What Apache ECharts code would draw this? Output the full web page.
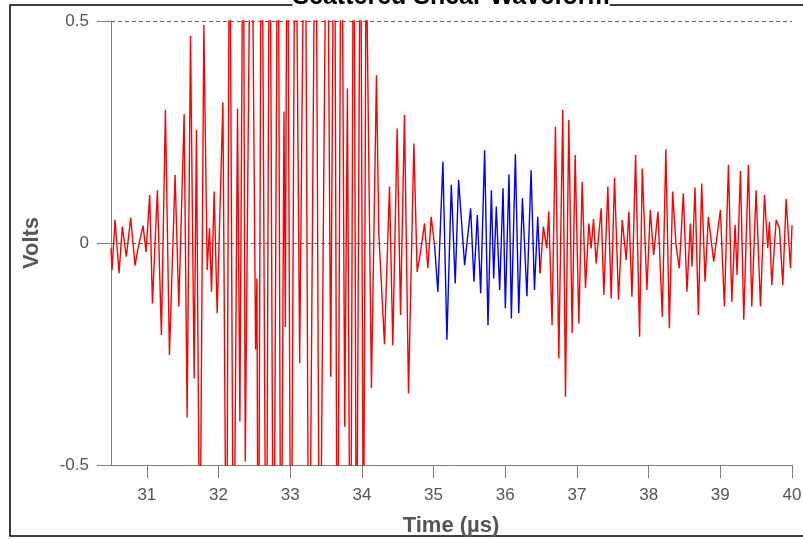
<!DOCTYPE html>
<html>
<head>
<meta charset="utf-8">
<script src="https://cdn.jsdelivr.net/npm/echarts@6/dist/echarts.min.js"></script>
<style>
html,body{margin:0;padding:0;background:#fff;}
#chart{width:803px;height:539px;}
</style>
</head>
<body>
<div id="chart"></div>
<script>
// Tick labels
const xTicks = [31, 32, 33, 34, 35, 36, 37, 38, 39, 40];
const yTicks = [-0.5, 0, 0.5];

// Early (red) part of the waveform: time (µs), volts (saturated peaks run past the ±0.5 frame)
const earlyTimes = [30.500,30.514,30.556,30.612,30.658,30.714,30.775,30.835,30.877,30.947,30.989,31.040,31.078,31.147,31.203,31.259,31.315,31.394,31.446,31.520,31.562,31.609,31.660,31.692,31.739,31.795,31.842,31.874,31.902,31.939,31.981,32.061,32.112,32.154,32.210,32.265,32.298,32.345,32.373,32.456,32.517,32.536,32.554,32.601,32.666,32.713,32.768,32.829,32.871,32.913,32.932,32.959,33.011,33.071,33.132,33.206,33.262,33.355,33.411,33.467,33.514,33.565,33.616,33.658,33.714,33.761,33.798,33.840,33.886,33.924,33.980,34.022,34.059,34.133,34.203,34.236,34.315,34.385,34.431,34.492,34.539,34.594,34.650,34.725,34.771,34.818,34.874,34.920,34.967,35.014];
const earlyVolts = [-0.012,-0.061,0.052,-0.068,0.037,-0.031,0.057,-0.051,-0.012,0.039,-0.020,0.108,-0.136,0.119,-0.207,0.300,-0.252,0.153,-0.143,0.290,-0.393,0.467,-0.305,0.255,-0.800,0.491,-0.061,0.033,-0.110,0.116,-0.158,0.317,-0.900,0.900,-0.900,0.303,-0.402,0.900,-0.492,1.000,-0.240,-0.080,-1.000,1.000,-1.000,1.000,-1.000,1.000,-1.000,0.296,-0.189,1.000,-1.000,1.000,-0.271,1.000,-1.000,1.000,-1.000,0.131,1.000,-0.301,1.000,-1.000,1.000,-0.414,0.348,-1.000,1.000,-0.900,0.900,-0.800,0.700,-0.327,0.378,0.022,-0.228,0.127,-0.230,0.258,-0.162,0.288,-0.339,0.224,-0.065,-0.020,0.044,-0.057,0.059,-0.005];

// Gated (blue) window
const windowTimes = [35.014,35.060,35.130,35.186,35.247,35.302,35.349,35.433,35.517,35.563,35.610,35.657,35.712,35.759,35.806,35.838,35.875,35.922,35.969,36.001,36.052,36.085,36.141,36.188,36.239,36.302,36.360,36.407,36.453,36.486];
const windowVolts = [-0.005,-0.110,0.183,-0.218,0.131,-0.091,0.142,-0.050,0.078,-0.087,0.063,-0.113,0.209,-0.185,0.119,-0.080,0.082,-0.106,0.123,-0.147,0.155,-0.170,0.200,-0.158,0.101,-0.120,0.164,-0.106,0.059,-0.068];

// Late (red) part
const lateTimes = [36.486,36.532,36.579,36.607,36.653,36.700,36.747,36.802,36.840,36.886,36.933,36.975,37.026,37.073,37.119,37.166,37.198,37.231,37.268,37.338,37.375,37.431,37.478,37.524,37.580,37.632,37.687,37.725,37.767,37.818,37.874,37.911,37.976,38.023,38.070,38.130,38.191,38.240,38.289,38.335,38.382,38.428,38.484,38.535,38.582,38.605,38.647,38.694,38.740,38.787,38.833,38.908,39.001,39.057,39.113,39.160,39.206,39.234,39.281,39.327,39.392,39.439,39.499,39.560,39.616,39.662,39.685,39.718,39.779,39.825,39.872,39.918,39.979,40.000];
const lateVolts = [-0.068,0.037,-0.012,0.071,-0.185,0.262,-0.260,0.300,-0.346,0.277,-0.203,0.198,-0.181,0.138,-0.102,0.044,-0.012,0.054,-0.046,0.078,-0.117,0.127,-0.125,0.147,-0.128,0.052,-0.038,0.071,-0.121,0.198,-0.211,0.168,-0.106,0.074,-0.027,0.071,-0.166,0.211,-0.192,0.116,-0.005,-0.057,0.112,-0.110,0.044,-0.053,0.125,-0.162,0.134,-0.087,0.059,-0.042,0.074,-0.143,0.176,-0.132,0.041,-0.072,0.162,-0.173,0.176,-0.143,0.119,-0.143,0.108,-0.012,0.048,-0.095,0.052,0.033,-0.095,0.099,-0.057,0.040];

function zip(t, v) {
  const n = Math.min(t.length, v.length);
  const out = [];
  for (let i = 0; i < n; i++) out.push([t[i], v[i]]);
  return out;
}

const FONT = "'Liberation Sans', Arial, sans-serif";
const chart = echarts.init(document.getElementById('chart'), null, {renderer: 'canvas'});

function lineSeries(name, data, color) {
  return {
    name: name, type: 'line', data: data, showSymbol: false, symbol: 'none',
    clip: true, animation: false,
    lineStyle: {color: color, width: 1.4},
    emphasis: {disabled: true}
  };
}

chart.setOption({
  animation: false,
  backgroundColor: '#fff',
  grid: {left: 111, right: 11, top: 21, bottom: 74, containLabel: false, outerBoundsMode: 'none'},
  xAxis: {
    type: 'value', min: 30.5, max: 40,
    axisLine: {onZero: false, lineStyle: {color: '#808080', width: 1}},
    axisTick: {show: true, length: 13, customValues: xTicks, lineStyle: {color: '#808080', width: 1}},
    axisLabel: {customValues: xTicks, color: '#555', fontSize: 17, fontFamily: FONT, margin: 22},
    splitLine: {show: false}
  },
  yAxis: {
    type: 'value', min: yTicks[0], max: yTicks[yTicks.length - 1], interval: 0.5,
    name: 'Volts', nameLocation: 'middle', nameGap: 68, nameRotate: 90,
    nameTextStyle: {color: '#555', fontSize: 22, fontWeight: 'bold', fontFamily: FONT},
    axisLine: {show: true, onZero: false, lineStyle: {color: '#808080', width: 1}},
    axisTick: {show: true, length: 14, lineStyle: {color: '#808080', width: 1}},
    axisLabel: {color: '#555', fontSize: 17, fontFamily: FONT, margin: 22},
    splitLine: {show: true, lineStyle: {color: '#666', width: 1, type: [4, 3]}}
  },
  graphic: [
    {type: 'rect', z: 0, silent: true,
     shape: {x: 10, y: 5, width: 820, height: 531},
     style: {fill: 'none', stroke: '#000', lineWidth: 1.5}},
    {type: 'text', z: 10, silent: true,
     style: {text: 'Scattered Shear Waveform', x: 451, y: 10, align: 'center', verticalAlign: 'bottom',
             fontSize: 25, fontWeight: 'bold', fontFamily: FONT, fill: '#000', backgroundColor: '#fff'}},
    {type: 'text', z: 10, silent: true,
     style: {text: 'Time (\u00b5s)', x: 451, y: 526, align: 'center', verticalAlign: 'middle',
             fontSize: 22, fontWeight: 'bold', fontFamily: FONT, fill: '#555'}}
  ],
  series: [
    lineSeries('early', zip(earlyTimes, earlyVolts), '#ff0000'),
    lineSeries('window', zip(windowTimes, windowVolts), '#0000ff'),
    lineSeries('late', zip(lateTimes, lateVolts), '#ff0000')
  ]
});
</script>
</body>
</html>
